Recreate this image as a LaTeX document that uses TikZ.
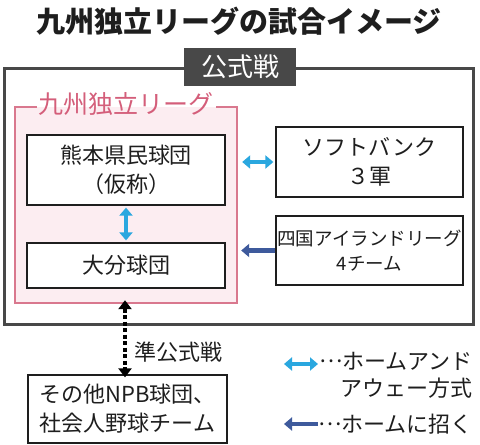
\documentclass[tikz,border=0pt]{standalone}
\usepackage{fontspec}
\setmainfont{Noto Sans CJK JP}
\usetikzlibrary{arrows.meta}
\definecolor{cyanA}{HTML}{2AA7DF}
\definecolor{navyA}{HTML}{3E5A9C}
\definecolor{pinkB}{HTML}{D9788E}
\definecolor{pinkF}{HTML}{FCEDF1}
\definecolor{pinkT}{HTML}{D45E7A}
\definecolor{frameG}{HTML}{484848}
\definecolor{txt}{HTML}{1E1E1E}
\newcommand{\jpdots}{\makebox[1em]{\raisebox{0.33em}{…}}}
\tikzset{
  teambox/.style={draw=txt, line width=1.3pt, fill=white, inner sep=0pt, text=txt, align=center},
  fs22/.style={font=\fontsize{22}{29}\selectfont},
  fs18/.style={font=\fontsize{18.5}{25}\selectfont},
  hah/.style={cyanA, line width=4.5pt, {Triangle[width=13pt,length=8pt]}-{Triangle[width=13pt,length=8pt]}},
  inv/.style={navyA, line width=4.5pt, -{Triangle[width=13pt,length=8pt]}},
}
\begin{document}
\begin{tikzpicture}[x=1pt,y=-1pt]
\useasboundingbox (0,0) rectangle (480,445);
\fill[white] (0,0) rectangle (480,445);
% title
\node[font=\fontsize{29}{32}\selectfont\bfseries, text=txt] (title) at (239,21) {九州独立リーグの試合イメージ};
% outer frame
\node[draw=frameG, line width=3pt, minimum width=469pt, minimum height=256pt, inner sep=0pt] (outer) at (238.5,196) {};
\node[fill=frameG, text=white, font=\fontsize{26}{30}\selectfont, minimum width=112pt, minimum height=38pt, inner sep=0pt] (koshiki) at (240,67) {公式戦};
% pink league box
\node[fill=pinkF, minimum width=222pt, minimum height=196pt, inner sep=0pt] (pink) at (126,205) {};
\draw[pinkB, line width=1.5pt] (37,107) -- (15,107) -- (15,303) -- (237,303) -- (237,107) -- (216,107);
\node[text=pinkT, font=\fontsize{25}{28}\selectfont] (pinklabel) at (126,104) {九州独立リーグ};
% team boxes
\node[teambox, fs22, minimum width=198pt, minimum height=70pt] (kuma) at (126,170) {熊本県民球団\\（仮称）};
\node[teambox, fs22, minimum width=198pt, minimum height=45pt] (oita) at (126,265.5) {大分球団};
\node[teambox, fs22, minimum width=187pt, minimum height=70pt] (sb) at (369.5,162) {ソフトバンク\\３軍};
\node[teambox, fs18, minimum width=187pt, minimum height=69pt] (shikoku) at (369.5,250.5) {四国アイランドリーグ\\4チーム};
% arrows
\draw[hah] ([yshift=-2pt]kuma.south) -- ([yshift=2pt]oita.north);
\draw[hah] ([xshift=-2pt]sb.west) -- ([xshift=5pt]pink.east |- sb.west);
\draw[inv] (shikoku.west) -- ([xshift=4pt]pink.east |- shikoku.west);
% bottom box
\node[teambox, fs22, minimum width=199pt, minimum height=68pt] (npb) at (127.5,409) {その他NPB球団、\\社会人野球チーム};
\draw[black, line width=4.5pt, dash pattern=on 4pt off 2.5pt, {Triangle[width=13pt,length=9pt]}-{Triangle[width=13pt,length=9pt]}] ([xshift=-1pt,yshift=3pt]pink.south) -- ([xshift=-2.5pt,yshift=-3pt]npb.north);
\node[text=txt, fs22, anchor=west] (jun) at (131,352) {準公式戦};
% legend
\coordinate (la1) at (284,364);
\coordinate (la2) at (318,364);
\draw[hah] (la1) -- (la2);
\node[text=txt, anchor=north east, align=right, inner sep=0pt, font=\fontsize{22}{27}\selectfont] (leg1) at (473,352) {\jpdots ホームアンド\\アウェー方式};
\coordinate (lb1) at (284,424);
\coordinate (lb2) at (318,424);
\draw[inv] (lb2) -- (lb1);
\node[text=txt, fs22, anchor=east, inner sep=0pt] (leg2) at (473,424) {\jpdots ホームに招く};
\end{tikzpicture}
\end{document}
